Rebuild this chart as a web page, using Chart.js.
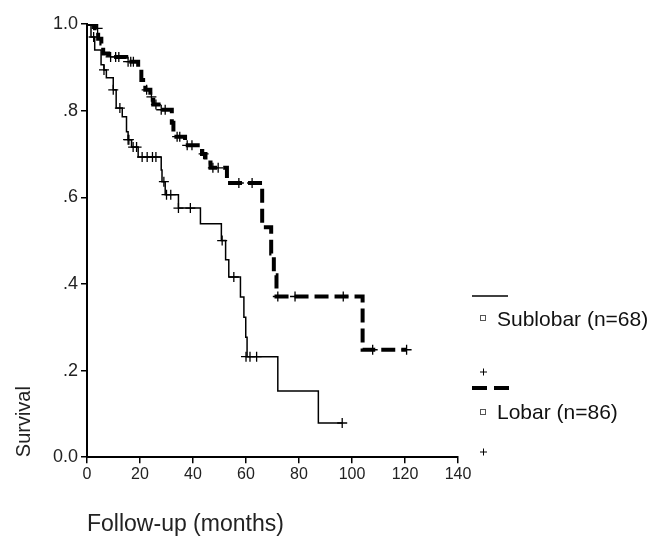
<!DOCTYPE html>
<html>
<head>
<meta charset="utf-8">
<script src="https://cdn.jsdelivr.net/npm/chart.js@4/dist/chart.umd.min.js"></script>
<style>
  body { margin: 0; background: #fff; }
</style>
</head>
<body>
<canvas id="kmChart" width="653" height="538"></canvas>
<script>
// Kaplan-Meier steps (time in months, survival)
const subTimes = [0, 1.5, 2.9, 5.3, 6.4, 7.3, 9.9, 11, 13.3, 14.9, 15.5, 16.8, 19.3, 28, 28.3, 29.5, 34.5, 42.8, 50.7, 52.3, 53.5, 57.9, 59.2, 59.9, 60.4, 72, 87.3, 96.3];
const subSurv = [1.0, .97, .94, .906, .894, .876, .848, .806, .786, .751, .733, .716, .693, .663, .636, .606, .575, .539, .50, .456, .416, .37, .323, .277, .232, .153, .079, .079];

const lobTimes = [0, 3, 4.2, 5.4, 6.1, 8, 14.8, 19.3, 20.5, 22, 23.9, 25, 27, 32, 32.6, 37, 43.4, 44.7, 46.6, 52.8, 66.1, 69.5, 70.5, 71.5, 104, 120.6];
const lobSurv = [1.0, .99, .966, .955, .932, .924, .913, .898, .871, .848, .832, .814, .802, .772, .74, .72, .70, .68, .668, .633, .531, .47, .42, .371, .248, .248];

// censored observations (+ marks)
const subCensorT = [2.5, 6.4, 9.9, 12.4, 15.5, 15.8, 17.4, 18.7, 20.8, 22.7, 24.7, 26, 29, 30, 31.6, 34.5, 39, 51, 55.4, 60, 61.5, 64, 96.3];
const subCensorS = [.97, .894, .848, .806, .733, .733, .716, .716, .693, .693, .693, .693, .636, .606, .606, .575, .575, .50, .416, .232, .232, .232, .079];

const lobCensorT = [2, 4, 8.9, 10.8, 12, 15.5, 16.5, 17.5, 22.5, 24.3, 26, 28, 29.5, 34, 35, 37.8, 39.6, 44, 47.5, 49.5, 57.3, 62.3, 72, 78.5, 96.7, 107.8, 120.6];
const lobCensorS = [1.0, .99, .924, .924, .924, .913, .913, .913, .848, .832, .814, .802, .802, .74, .74, .72, .72, .70, .668, .668, .633, .633, .371, .371, .371, .248, .248];

const xTickValues = [0, 20, 40, 60, 80, 100, 120, 140];
const yTickValues = [0, .2, .4, .6, .8, 1.0];
const yTickLabels = ["0.0", ".2", ".4", ".6", ".8", "1.0"];

const legendItems = ["Sublobar (n=68)", "Lobar (n=86)"];

const FONT = "'Liberation Sans', Arial, sans-serif";

function toPoints(xs, ys) {
    return xs.map((x, i) => ({ x: x, y: ys[i] }));
}

// legend drawn at the right, like the original figure
const sideLegend = {
    id: "sideLegend",
    afterDraw(chart) {
        const ctx = chart.ctx;
        ctx.save();
        ctx.strokeStyle = "#000";
        ctx.fillStyle = "#111";

        // solid sample
        ctx.lineWidth = 1.5;
        ctx.beginPath();
        ctx.moveTo(472, 296);
        ctx.lineTo(508, 296);
        ctx.stroke();

        // dashed sample
        ctx.lineWidth = 4;
        ctx.setLineDash([15, 7]);
        ctx.beginPath();
        ctx.moveTo(472, 388);
        ctx.lineTo(509, 388);
        ctx.stroke();
        ctx.setLineDash([]);

        // little squares
        ctx.lineWidth = 1;
        ctx.strokeStyle = "#555";
        ctx.strokeRect(480.5, 315.5, 5, 5);
        ctx.strokeRect(480.5, 409.5, 5, 5);

        // plus signs
        ctx.strokeStyle = "#000";
        [372, 452].forEach(y => {
            ctx.beginPath();
            ctx.moveTo(480, y);
            ctx.lineTo(487, y);
            ctx.moveTo(483.5, y - 3.5);
            ctx.lineTo(483.5, y + 3.5);
            ctx.stroke();
        });

        ctx.font = "21px " + FONT;
        ctx.textBaseline = "middle";
        ctx.fillText(legendItems[0], 497, 320);
        ctx.fillText(legendItems[1], 497, 413);
        ctx.restore();
    }
};

const ctx = document.getElementById("kmChart").getContext("2d");
new Chart(ctx, {
    type: "scatter",
    data: {
        datasets: [
            {
                label: legendItems[0],
                data: toPoints(subTimes, subSurv),
                showLine: true,
                stepped: "before",
                borderColor: "#000",
                borderWidth: 1.5,
                pointRadius: 0,
                fill: false,
            },
            {
                label: legendItems[1],
                data: toPoints(lobTimes, lobSurv),
                showLine: true,
                stepped: "before",
                borderColor: "#000",
                borderWidth: 4,
                borderDash: [14, 6],
                pointRadius: 0,
                fill: false,
            },
            {
                label: "Sublobar censored",
                data: toPoints(subCensorT, subCensorS),
                pointStyle: "cross",
                pointRadius: 5,
                borderColor: "#000",
                borderWidth: 1.3,
            },
            {
                label: "Lobar censored",
                data: toPoints(lobCensorT, lobCensorS),
                pointStyle: "cross",
                pointRadius: 5,
                borderColor: "#000",
                borderWidth: 1.3,
            },
        ],
    },
    options: {
        responsive: false,
        animation: false,
        layout: { padding: { left: 12, right: 195, top: 24, bottom: 0 } },
        plugins: {
            legend: { display: false },
            tooltip: { enabled: false },
        },
        scales: {
            x: {
                type: "linear",
                min: 0,
                max: 140,
                afterBuildTicks: axis => { axis.ticks = xTickValues.map(v => ({ value: v })); },
                ticks: { color: "#222", font: { family: FONT, size: 16 }, padding: 2, maxRotation: 0 },
                grid: { drawOnChartArea: false, drawTicks: true, tickLength: 6, color: "#000", lineWidth: 1.5 },
                border: { display: true, color: "#000", width: 2 },
                title: {
                    display: true,
                    text: "Follow-up (months)",
                    align: "start",
                    color: "#222",
                    font: { family: FONT, size: 23 },
                    padding: { top: 24, bottom: 0 },
                },
            },
            y: {
                min: 0,
                max: 1,
                afterBuildTicks: axis => { axis.ticks = yTickValues.map(v => ({ value: v })); },
                ticks: {
                    color: "#222",
                    font: { family: FONT, size: 18 },
                    padding: 3,
                    callback: (value, index) => yTickLabels[index],
                },
                grid: { drawOnChartArea: false, drawTicks: true, tickLength: 6, color: "#000", lineWidth: 1.5 },
                border: { display: true, color: "#000", width: 2 },
                title: {
                    display: true,
                    text: "Survival",
                    align: "start",
                    color: "#222",
                    font: { family: FONT, size: 20 },
                    padding: { top: 0, bottom: 14 },
                },
            },
        },
    },
    plugins: [sideLegend],
});
</script>
</body>
</html>
